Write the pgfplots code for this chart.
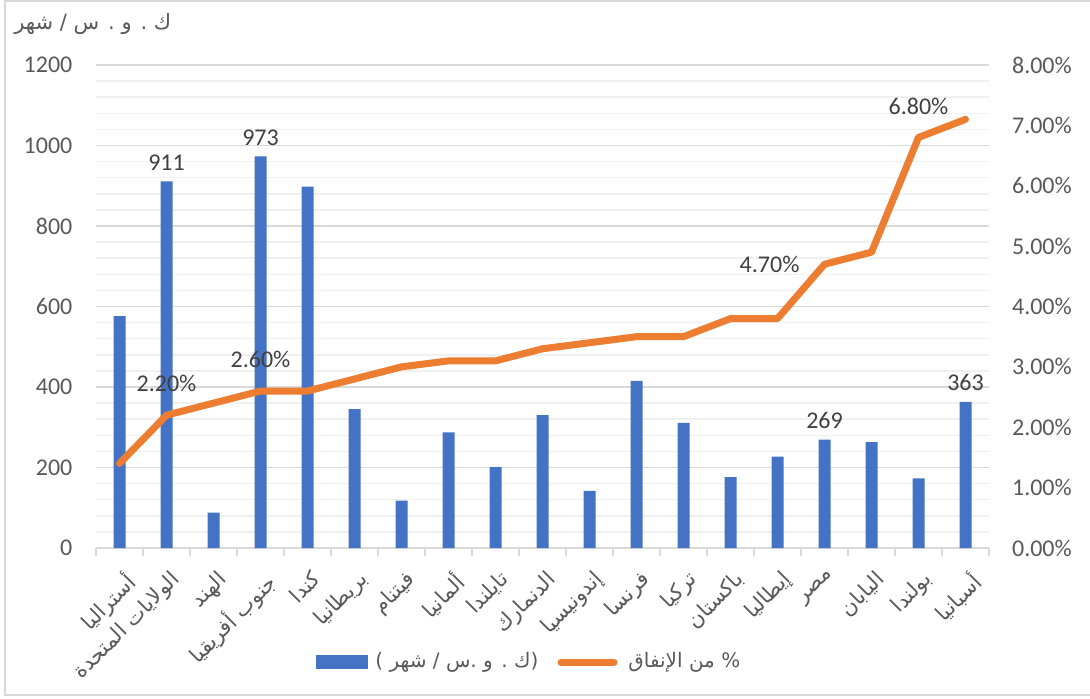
\documentclass[border=0pt]{standalone}
\usepackage{fontspec}
\setmainfont{Carlito}
\newfontfamily\arabicfont[Script=Arabic]{DejaVu Sans}
\usepackage{pgfplots}
\pgfplotsset{compat=1.18}
\TeXXeTstate=1
\definecolor{barblue}{HTML}{4472C4}
\definecolor{lineorange}{HTML}{ED7D31}
\definecolor{textgray}{HTML}{595959}
\definecolor{labelgray}{HTML}{404040}
\definecolor{gridgray}{HTML}{D9D9D9}
\definecolor{minorgray}{HTML}{F0F0F0}
\begin{document}
\begin{tikzpicture}[x=1pt,y=1pt]
\useasboundingbox (0,0) rectangle (545,349);
\draw[color=gridgray, line width=0.75pt] (2.5,1.5) rectangle (547,348.5);
\begin{axis}[
  at={(48pt,75pt)}, anchor=south west, scale only axis,
  width=446.5pt, height=241.5pt,
  xmin=-0.5, xmax=18.5, ymin=0, ymax=1200,
  axis x line*=bottom, axis y line*=left,
  y axis line style={draw=none},
  x axis line style={color=gridgray, line width=0.75pt, -},
  xtick={0,...,18},
  major x tick style={draw=none},
  minor xtick={-0.5,0.5,...,18.5},
  minor x tick style={color=gridgray, line width=0.75pt},
  minor tick length=4pt, tick align=outside,
  ytick={0,200,...,1200},
  minor y tick num=4,
  y tick style={draw=none},
  ymajorgrids, yminorgrids,
  major grid style={color=gridgray, line width=0.75pt},
  minor grid style={color=minorgray, line width=0.75pt},
  tick label style={color=textgray, font=\fontsize{12}{14}\selectfont},
  /pgf/number format/assume math mode=true,
  /pgf/number format/1000 sep={},
  yticklabel style={xshift=-4pt},
  x tick label style={rotate=45, anchor=north east,
     font=\fontsize{10.5}{13}\selectfont, color=textgray, yshift=-2pt},
  xticklabels={
    {\arabicfont\beginR أستراليا\endR},
    {\arabicfont\beginR الولايات المتحدة\endR},
    {\arabicfont\beginR الهند\endR},
    {\arabicfont\beginR جنوب أفريقيا\endR},
    {\arabicfont\beginR كندا\endR},
    {\arabicfont\beginR بريطانيا\endR},
    {\arabicfont\beginR فيتنام\endR},
    {\arabicfont\beginR ألمانيا\endR},
    {\arabicfont\beginR تايلندا\endR},
    {\arabicfont\beginR الدنمارك\endR},
    {\arabicfont\beginR إندونيسيا\endR},
    {\arabicfont\beginR فرنسا\endR},
    {\arabicfont\beginR تركيا\endR},
    {\arabicfont\beginR باكستان\endR},
    {\arabicfont\beginR إيطاليا\endR},
    {\arabicfont\beginR مصر\endR},
    {\arabicfont\beginR اليابان\endR},
    {\arabicfont\beginR بولندا\endR},
    {\arabicfont\beginR أسبانيا\endR}},
]
\addplot[ybar, bar width=6pt, fill=barblue, draw=none,
  nodes near coords, point meta=explicit symbolic,
  every node near coord/.append style={font=\fontsize{12}{14}\selectfont, color=labelgray, yshift=2pt}]
  coordinates {
  (0,576) []
  (1,911) [911]
  (2,88) []
  (3,973) [973]
  (4,898) []
  (5,345) []
  (6,118) []
  (7,287) []
  (8,201) []
  (9,330) []
  (10,142) []
  (11,415) []
  (12,311) []
  (13,176) []
  (14,227) []
  (15,269) [269]
  (16,263) []
  (17,173) []
  (18,363) [363]
  };
\end{axis}
\begin{axis}[
  at={(48pt,75pt)}, anchor=south west, scale only axis,
  width=446.5pt, height=241.5pt,
  xmin=-0.5, xmax=18.5, ymin=0, ymax=8,
  axis x line=none, axis y line*=right,
  y axis line style={draw=none},
  ytick={0,1,...,8},
  y tick style={draw=none},
  tick label style={color=textgray, font=\fontsize{12}{14}\selectfont},
  yticklabel={\pgfmathprintnumber[fixed,fixed zerofill,precision=2,assume math mode=true]{\tick}\%},
  yticklabel style={xshift=8pt},
]
\addplot[color=lineorange, line width=3.5pt, line join=round, line cap=round, mark=none]
  coordinates {
  (0,1.4) (1,2.2) (2,2.4) (3,2.6) (4,2.6) (5,2.8) (6,3.0) (7,3.1) (8,3.1)
  (9,3.3) (10,3.4) (11,3.5) (12,3.5) (13,3.8) (14,3.8) (15,4.7) (16,4.9)
  (17,6.8) (18,7.1)
  };
\addplot[draw=none, mark=none, nodes near coords, point meta=explicit symbolic,
  every node near coord/.append style={font=\fontsize{12}{14}\selectfont, color=labelgray, anchor=south, yshift=8pt}]
  coordinates {(1,2.2) [2.20\%] (3,2.6) [2.60\%] (17,6.8) [6.80\%]};
\addplot[draw=none, mark=none, nodes near coords, point meta=explicit symbolic,
  every node near coord/.append style={font=\fontsize{12}{14}\selectfont, color=labelgray, anchor=east, xshift=-9pt}]
  coordinates {(15,4.7) [4.70\%]};
\end{axis}
% title
\node[anchor=west, color=textgray, font=\fontsize{10.5}{13}\selectfont, inner sep=0pt] at (7,337) {\arabicfont\beginR ك . و . س / شهر\endR};
% legend
\fill[barblue] (158,14.5) rectangle (184,21.5);
\node[anchor=west, color=textgray, font=\fontsize{10}{12}\selectfont, inner sep=0pt] at (187.5,18) {\arabicfont\beginR (ك . و .س / شهر )\endR};
\draw[lineorange, line width=3.5pt, line cap=round] (280.5,18) -- (307,18);
\node[anchor=west, color=textgray, font=\fontsize{10}{12}\selectfont, inner sep=0pt] at (314,18) {\arabicfont\beginR \% من الإنفاق\endR};
\end{tikzpicture}
\end{document}
